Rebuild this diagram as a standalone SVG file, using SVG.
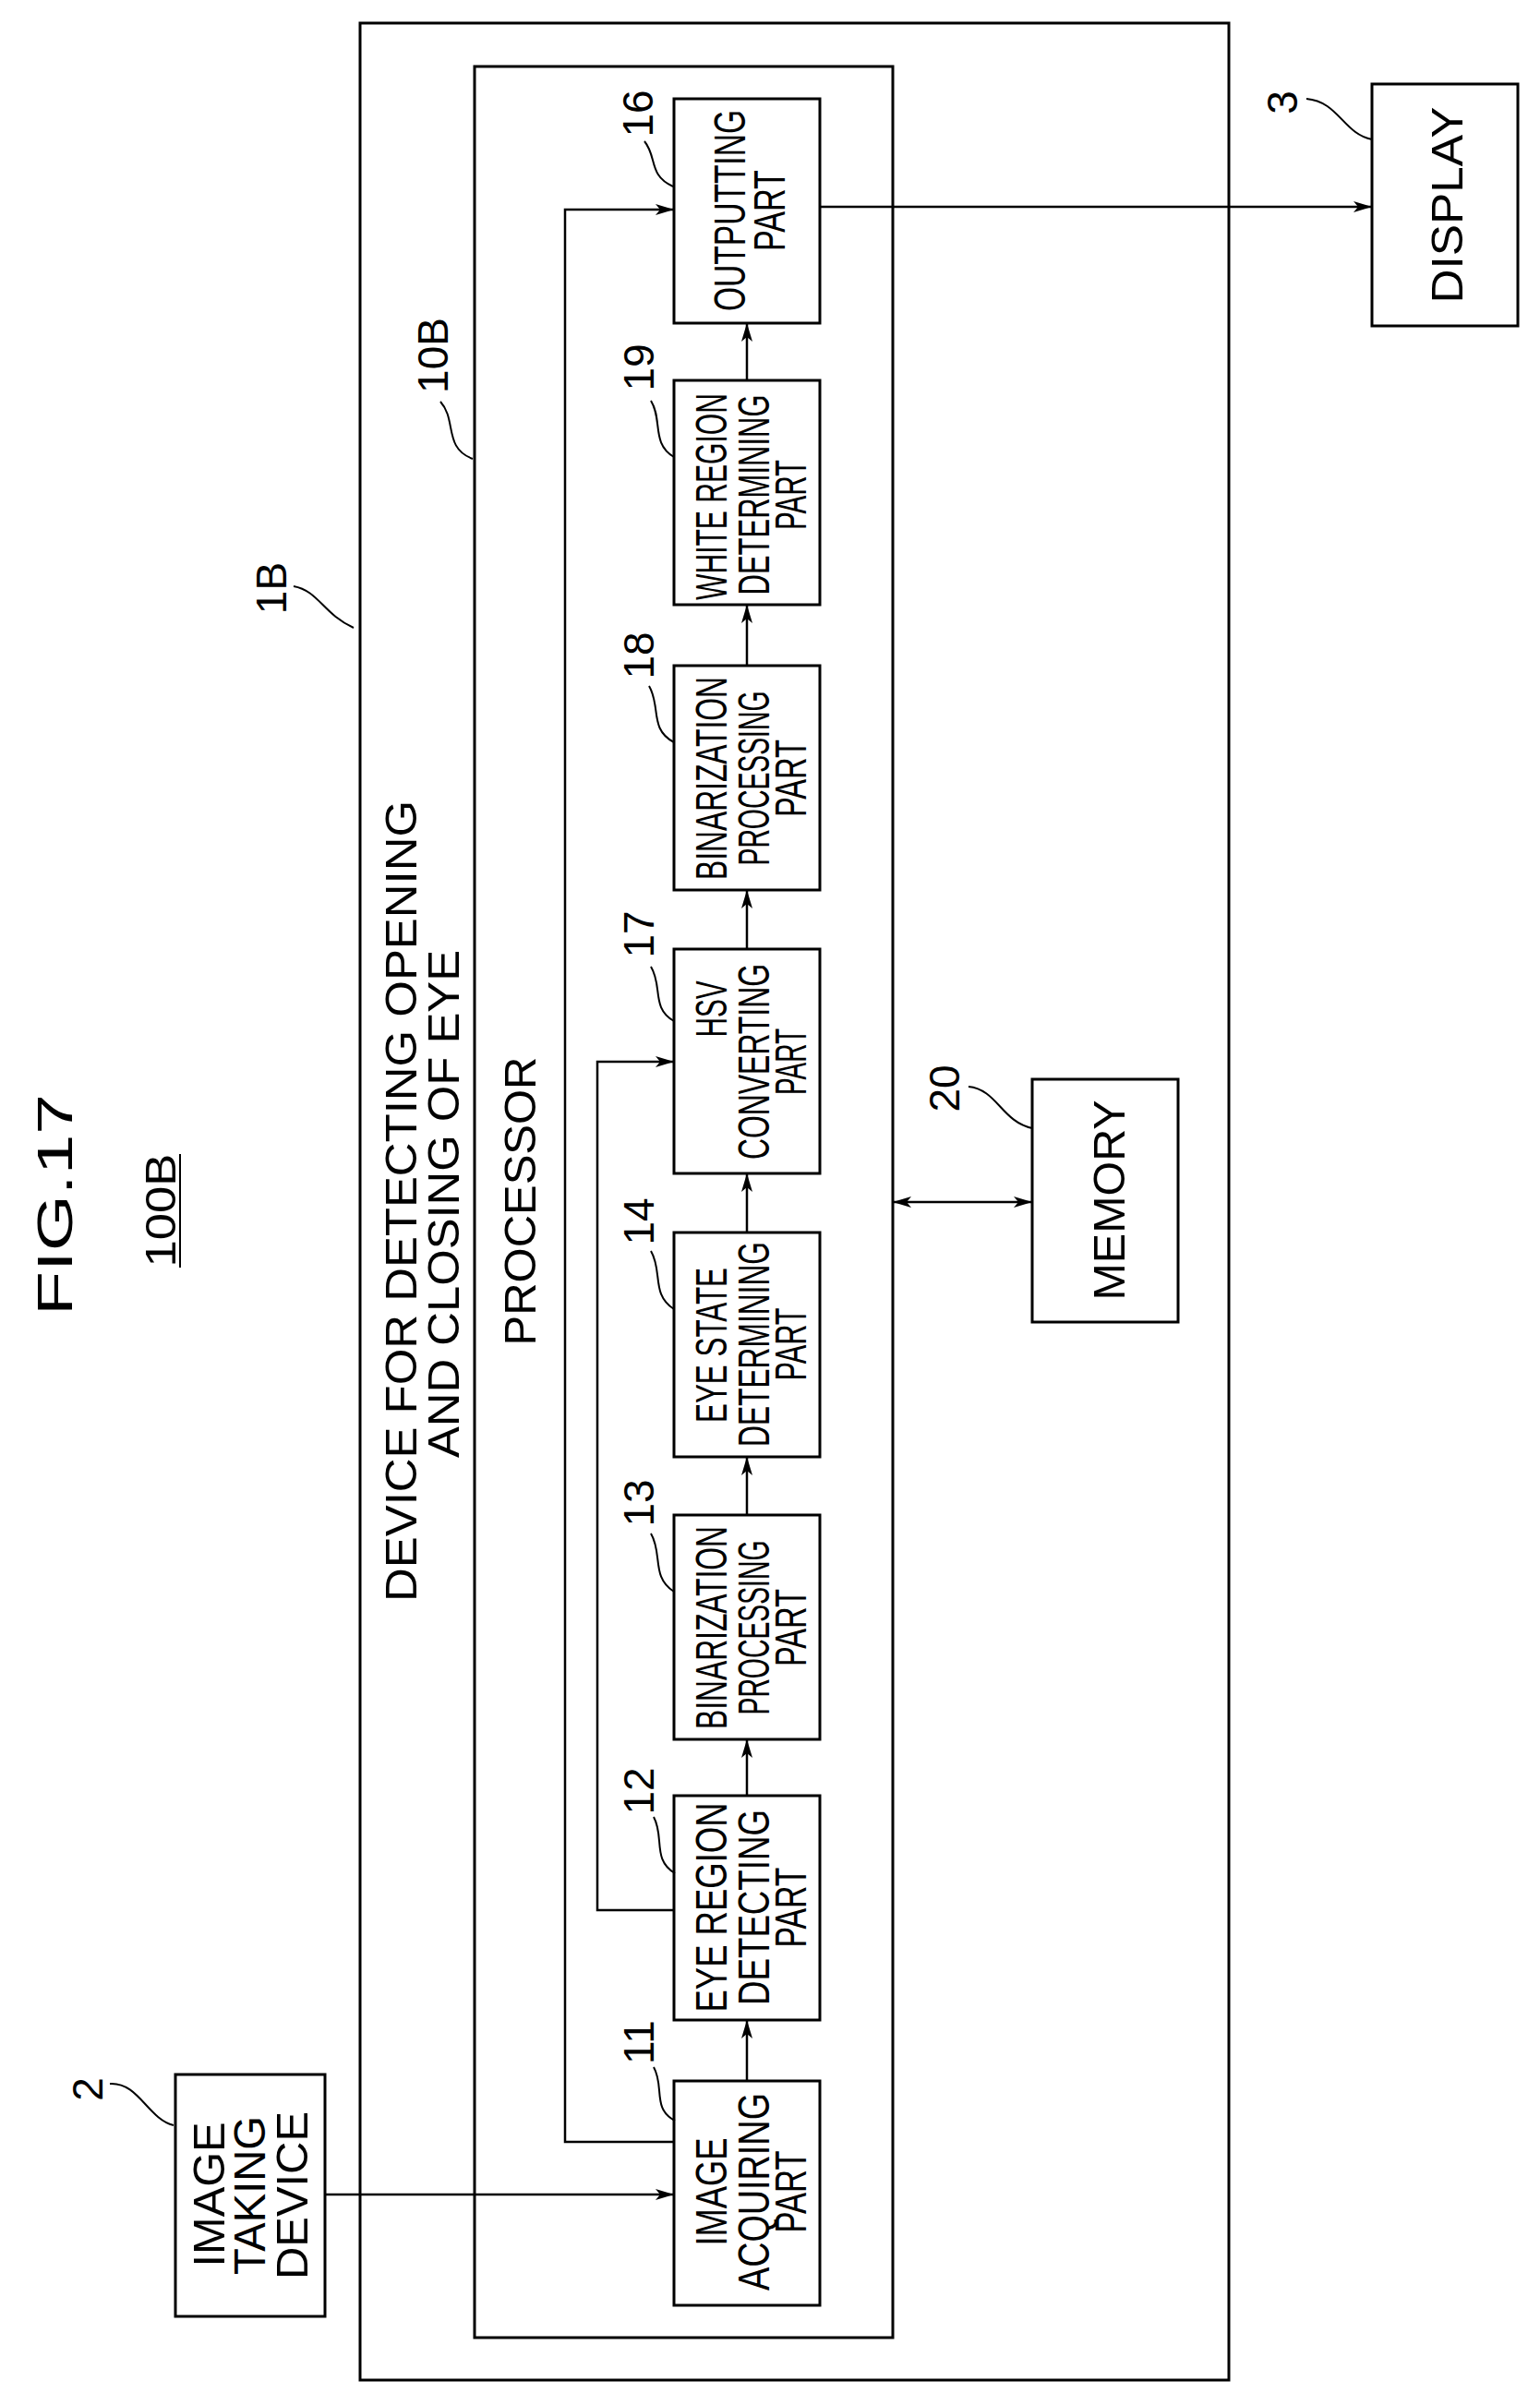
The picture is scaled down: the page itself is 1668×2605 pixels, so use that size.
<svg xmlns="http://www.w3.org/2000/svg" width="1668" height="2605" viewBox="0 0 1668 2605">
<style>
.b{fill:none;stroke:#000;stroke-width:3}
.c{fill:none;stroke:#000;stroke-width:2.5}
.l{fill:none;stroke:#000;stroke-width:2}
text{font-family:"Liberation Sans",Arial,sans-serif;fill:#000;text-anchor:middle}
.t{font-size:48px}
.n{font-size:46px}
.h{font-size:54px}
</style>
<defs>
<marker id="a" viewBox="0 0 20 12" refX="20" refY="6" markerWidth="20" markerHeight="12" markerUnits="userSpaceOnUse" orient="auto-start-reverse"><path d="M0,0 L20,6 L0,12 L5,6 Z" fill="#000"/></marker>
</defs>
<rect width="1668" height="2605" fill="#fff"/>
<g id="title">
<text class="h" transform="translate(78,1305) rotate(-90)" textLength="240" lengthAdjust="spacingAndGlyphs">FIG.17</text>
<text class="n" transform="translate(190,1311) rotate(-90)" textLength="123" lengthAdjust="spacingAndGlyphs">100B</text>
<line x1="195" y1="1250" x2="195" y2="1373" class="l"/>
</g>
<g id="device1B">
<rect x="390" y="25" width="941" height="2553" class="b"/>
<text class="t" transform="translate(451,1301) rotate(-90)" textLength="868" lengthAdjust="spacingAndGlyphs">DEVICE FOR DETECTING OPENING</text>
<text class="t" transform="translate(497,1304) rotate(-90)" textLength="550" lengthAdjust="spacingAndGlyphs">AND CLOSING OF EYE</text>
<text class="n" transform="translate(310,637) rotate(-90)">1B</text>
<path d="M318,635 C345,640 350,665 383,680" class="l"/>
</g>
<g id="processor10B">
<rect x="514" y="72" width="453" height="2460" class="b"/>
<text class="t" transform="translate(580,1301) rotate(-90)" textLength="313" lengthAdjust="spacingAndGlyphs">PROCESSOR</text>
<text class="n" transform="translate(485,385) rotate(-90)">10B</text>
<path d="M477,435 C495,455 480,485 512,497" class="l"/>
</g>
<g id="n16">
<rect x="730" y="107" width="158" height="243" class="b"/>
<text class="t" transform="translate(807,228) rotate(-90)" textLength="218" lengthAdjust="spacingAndGlyphs">OUTPUTTING</text>
<text class="t" transform="translate(850,228) rotate(-90)" textLength="88" lengthAdjust="spacingAndGlyphs">PART</text>
<text class="n" transform="translate(707,123) rotate(-90)">16</text>
<path d="M698,153 C712,170 702,190 729,202" class="l"/>
</g>
<g id="n19">
<rect x="730" y="412" width="158" height="243" class="b"/>
<text class="t" transform="translate(787,538) rotate(-90)" textLength="224" lengthAdjust="spacingAndGlyphs">WHITE REGION</text>
<text class="t" transform="translate(833,536) rotate(-90)" textLength="217" lengthAdjust="spacingAndGlyphs">DETERMINING</text>
<text class="t" transform="translate(873,536) rotate(-90)" textLength="76" lengthAdjust="spacingAndGlyphs">PART</text>
<text class="n" transform="translate(708,398) rotate(-90)">19</text>
<path d="M705,434 C718,455 705,480 730,495" class="l"/>
</g>
<g id="n18">
<rect x="730" y="721" width="158" height="243" class="b"/>
<text class="t" transform="translate(787,843) rotate(-90)" textLength="220" lengthAdjust="spacingAndGlyphs">BINARIZATION</text>
<text class="t" transform="translate(833,843) rotate(-90)" textLength="189" lengthAdjust="spacingAndGlyphs">PROCESSING</text>
<text class="t" transform="translate(873,843) rotate(-90)" textLength="84" lengthAdjust="spacingAndGlyphs">PART</text>
<text class="n" transform="translate(708,710) rotate(-90)">18</text>
<path d="M703,743 C716,765 703,790 730,804" class="l"/>
</g>
<g id="n17">
<rect x="730" y="1028" width="158" height="243" class="b"/>
<text class="t" transform="translate(787,1093) rotate(-90)" textLength="61" lengthAdjust="spacingAndGlyphs">HSV</text>
<text class="t" transform="translate(833,1150) rotate(-90)" textLength="212" lengthAdjust="spacingAndGlyphs">CONVERTING</text>
<text class="t" transform="translate(873,1150) rotate(-90)" textLength="72" lengthAdjust="spacingAndGlyphs">PART</text>
<text class="n" transform="translate(708,1012) rotate(-90)">17</text>
<path d="M705,1047 C718,1068 705,1092 730,1106" class="l"/>
</g>
<g id="n14">
<rect x="730" y="1335" width="158" height="243" class="b"/>
<text class="t" transform="translate(787,1457) rotate(-90)" textLength="168" lengthAdjust="spacingAndGlyphs">EYE STATE</text>
<text class="t" transform="translate(833,1456) rotate(-90)" textLength="222" lengthAdjust="spacingAndGlyphs">DETERMINING</text>
<text class="t" transform="translate(873,1456) rotate(-90)" textLength="79" lengthAdjust="spacingAndGlyphs">PART</text>
<text class="n" transform="translate(708,1323) rotate(-90)">14</text>
<path d="M705,1355 C718,1377 705,1402 730,1418" class="l"/>
</g>
<g id="n13">
<rect x="730" y="1641" width="158" height="243" class="b"/>
<text class="t" transform="translate(787,1763) rotate(-90)" textLength="220" lengthAdjust="spacingAndGlyphs">BINARIZATION</text>
<text class="t" transform="translate(833,1763) rotate(-90)" textLength="189" lengthAdjust="spacingAndGlyphs">PROCESSING</text>
<text class="t" transform="translate(873,1763) rotate(-90)" textLength="84" lengthAdjust="spacingAndGlyphs">PART</text>
<text class="n" transform="translate(708,1628) rotate(-90)">13</text>
<path d="M705,1661 C718,1683 705,1708 730,1724" class="l"/>
</g>
<g id="n12">
<rect x="730" y="1945" width="158" height="243" class="b"/>
<text class="t" transform="translate(787,2066) rotate(-90)" textLength="227" lengthAdjust="spacingAndGlyphs">EYE REGION</text>
<text class="t" transform="translate(833,2066) rotate(-90)" textLength="212" lengthAdjust="spacingAndGlyphs">DETECTING</text>
<text class="t" transform="translate(873,2066) rotate(-90)" textLength="87" lengthAdjust="spacingAndGlyphs">PART</text>
<text class="n" transform="translate(708,1940) rotate(-90)">12</text>
<path d="M708,1968 C720,1990 706,2014 731,2029" class="l"/>
</g>
<g id="n11">
<rect x="730" y="2254" width="158" height="243" class="b"/>
<text class="t" transform="translate(787,2374) rotate(-90)" textLength="117" lengthAdjust="spacingAndGlyphs">IMAGE</text>
<text class="t" transform="translate(833,2374) rotate(-90)" textLength="214" lengthAdjust="spacingAndGlyphs">ACQUIRING</text>
<text class="t" transform="translate(873,2374) rotate(-90)" textLength="89" lengthAdjust="spacingAndGlyphs">PART</text>
<text class="n" transform="translate(708,2212) rotate(-90)">11</text>
<path d="M708,2239 C720,2260 706,2284 731,2297" class="l"/>
</g>
<g id="n2">
<rect x="190" y="2247" width="162" height="262" class="b"/>
<text class="t" transform="translate(243,2377) rotate(-90)" textLength="157" lengthAdjust="spacingAndGlyphs">IMAGE</text>
<text class="t" transform="translate(287,2378) rotate(-90)" textLength="172" lengthAdjust="spacingAndGlyphs">TAKING</text>
<text class="t" transform="translate(333,2378) rotate(-90)" textLength="182" lengthAdjust="spacingAndGlyphs">DEVICE</text>
<text class="n" transform="translate(111,2263) rotate(-90)">2</text>
<path d="M119,2257 C150,2255 160,2295 188,2302" class="l"/>
</g>
<g id="n3">
<rect x="1486" y="91" width="158" height="262" class="b"/>
<text class="t" transform="translate(1584,222) rotate(-90)" textLength="213" lengthAdjust="spacingAndGlyphs">DISPLAY</text>
<text class="n" transform="translate(1405,111) rotate(-90)">3</text>
<path d="M1415,107 C1450,110 1455,145 1486,151" class="l"/>
</g>
<g id="n20">
<rect x="1118" y="1169" width="158" height="263" class="b"/>
<text class="t" transform="translate(1218,1300) rotate(-90)" textLength="217" lengthAdjust="spacingAndGlyphs">MEMORY</text>
<text class="n" transform="translate(1039,1179) rotate(-90)">20</text>
<path d="M1049,1177 C1080,1180 1085,1215 1118,1222" class="l"/>
</g>
<g id="connectors">
<line x1="809" y1="2254" x2="809" y2="2188" class="c" marker-end="url(#a)"/>
<line x1="809" y1="1945" x2="809" y2="1884" class="c" marker-end="url(#a)"/>
<line x1="809" y1="1641" x2="809" y2="1578" class="c" marker-end="url(#a)"/>
<line x1="809" y1="1335" x2="809" y2="1271" class="c" marker-end="url(#a)"/>
<line x1="809" y1="1028" x2="809" y2="964" class="c" marker-end="url(#a)"/>
<line x1="809" y1="721" x2="809" y2="655" class="c" marker-end="url(#a)"/>
<line x1="809" y1="412" x2="809" y2="350" class="c" marker-end="url(#a)"/>
<line x1="352" y1="2377" x2="730" y2="2377" class="c" marker-end="url(#a)"/>
<path d="M730,2320 H612 V227 H730" class="c" marker-end="url(#a)"/>
<path d="M730,2069 H647 V1150 H730" class="c" marker-end="url(#a)"/>
<line x1="888" y1="224" x2="1486" y2="224" class="c" marker-end="url(#a)"/>
<line x1="967" y1="1302" x2="1118" y2="1302" class="c" marker-start="url(#a)" marker-end="url(#a)"/>
</g>
</svg>
